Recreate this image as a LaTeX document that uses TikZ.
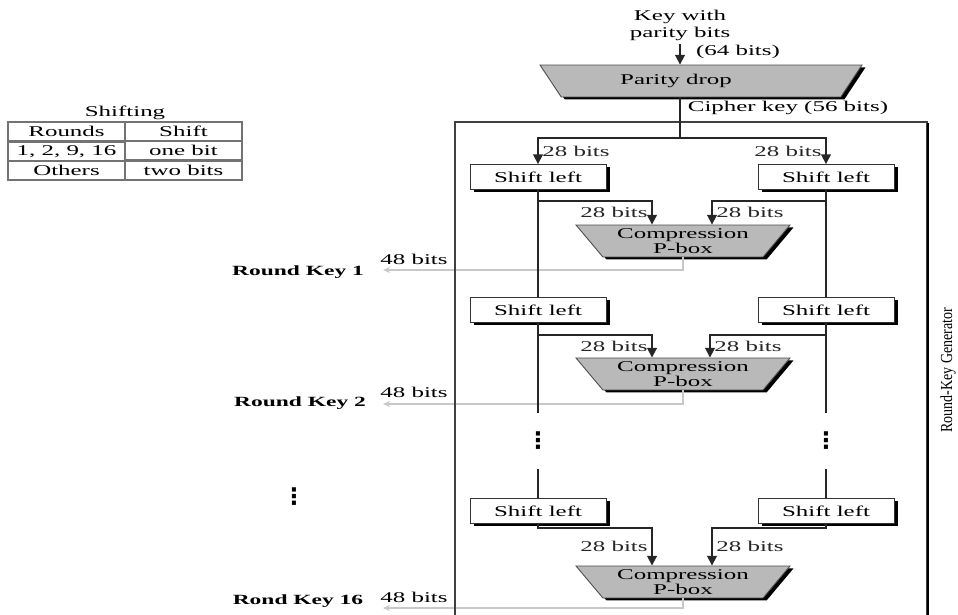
\documentclass[tikz,border=0pt]{standalone}
\usepackage{fontspec}
\setmainfont{Liberation Serif}[FakeStretch=1.67]
\newfontfamily\sidefont{Liberation Serif}[FakeStretch=0.83]
\newfontfamily\dotsfont{DejaVu Sans}
\usetikzlibrary{arrows.meta, shapes.geometric, shadows, matrix}
\definecolor{boxgray}{RGB}{185,185,185}
\definecolor{keygray}{RGB}{200,200,200}

\tikzset{
  txt/.style={font=\fontsize{8.5}{9.6}\selectfont, inner sep=2pt},
  shadowed/.style={drop shadow={shadow xshift=2pt, shadow yshift=-1.4pt, fill=black, opacity=1}},
  shiftbox/.style={txt, draw=black!80, fill=white, line width=0.5pt, minimum width=2.72cm,
    minimum height=0.5cm, inner sep=0pt, shadowed},
  pbox/.style={trapezium, trapezium stretches body=true, shape border rotate=180, trapezium angle=45,
    draw=black!70, fill=boxgray, line width=0.5pt, minimum width=4.28cm, minimum height=0.64cm,
    inner xsep=0pt, inner ysep=0.5pt, align=center, font=\fontsize{8.5}{8.6}\selectfont, shadowed},
  dropbox/.style={trapezium, trapezium stretches body=true, shape border rotate=180, trapezium angle=53,
    draw=black!70, fill=boxgray, line width=0.5pt, minimum width=6.44cm, minimum height=0.64cm,
    inner sep=2pt, shadowed},
  flow/.style={line width=1pt, black!85},
  arr/.style={flow, -{Triangle[width=5.5pt,length=5.5pt]}},
  keyline/.style={keygray, line width=0.6pt, -{Stealth[length=4pt,width=3.5pt]}},
  rkey/.style={font=\fontsize{8}{9}\selectfont\bfseries, inner sep=1pt},
  dotsnode/.style={minimum height=1.1cm, inner sep=0pt, font=\dotsfont\bfseries\fontsize{13}{13}\selectfont}
}

\begin{document}
\begin{tikzpicture}[x=0.02cm, y=-0.02cm]
  \useasboundingbox (0,0) rectangle (958,615);

  % shift table
  \node[txt] (shifttitle) at (125,113) {Shifting};
  \matrix (shifttab) [matrix of nodes, column sep=-0.8pt, row sep=-0.8pt,
    nodes={txt, draw=black!55, line width=0.8pt, minimum width=2.34cm, minimum height=0.38cm, inner sep=0pt}]
    at (125,151) {
      Rounds & Shift \\
      1, 2, 9, 16 & one bit \\
      Others & two bits \\
    };

  % key in and parity drop
  \node[txt, align=center] (keyin) at (680,25) {Key with\\parity bits};
  \node[txt] (keybits) at (738,52) {(64 bits)};
  \node[dropbox, label={[txt, xshift=-0.5cm]center:Parity drop}] (drop) at (701,81) {\strut};
  \draw[arr] (keyin.south) -- (keyin.south |- drop.north);
  \node[txt, anchor=west] (cipher) at (684,108) {Cipher key (56 bits)};
  \coordinate (split) at (680,138);

  % shift left boxes
  \node[shiftbox] (sl1L) at (538,177) {Shift left};
  \node[shiftbox] (sl1R) at (826,177) {Shift left};
  \node[shiftbox] (sl2L) at (538,310) {Shift left};
  \node[shiftbox] (sl2R) at (826,310) {Shift left};
  \node[shiftbox] (sl3L) at (538,511) {Shift left};
  \node[shiftbox] (sl3R) at (826,511) {Shift left};

  % compression boxes
  \node[pbox] (pb1) at (683,241) {Compression\\P-box};
  \node[pbox] (pb2) at (683,374) {Compression\\P-box};
  \node[pbox] (pb3) at (683,582) {Compression\\P-box};

  % round keys out
  \coordinate (rk1) at (383,270);
  \coordinate (rk2) at (383,404);
  \coordinate (rk3) at (383,608);
  \draw[keyline] (pb1.south) |- (rk1);
  \draw[keyline] (pb2.south) |- (rk2);
  \draw[keyline] (pb3.south) |- (rk3);
  \node[txt] (bits1) at (414,259) {48 bits};
  \node[txt] (bits2) at (414,392) {48 bits};
  \node[txt] (bits3) at (414,597) {48 bits};
  \node[rkey] (key1) at (298,272) {Round Key 1};
  \node[rkey] (key2) at (300,403) {Round Key 2};
  \node[rkey] (key16) at (298,601) {Rond Key 16};
  \node[dotsnode, minimum height=0pt] (dotskey) at (294,497) {⋮};

  % generator frame
  \draw[black!75, line width=0.8pt] (455,615) -- (455,122) -- (927,122) -- (927,615);
  \draw[black, line width=1.6pt] (928,123) -- (928,615);
  \node[rotate=90, font=\sidefont\fontsize{9.6}{10}\selectfont] (rkgen) at (948,370) {Round-Key Generator};

  % cipher key split
  \draw[flow] (drop.south -| keyin.south) -- (split);
  \draw[arr] (split) -| node[txt, pos=0.75, right] {28 bits} (sl1L.north);
  \draw[arr] (split) -| node[txt, pos=0.75, left] {28 bits} (sl1R.north);

  % round 1
  \draw[flow] (sl1L.south) -- (sl2L.north);
  \draw[flow] (sl1R.south) -- (sl2R.north);
  \draw[arr] ([yshift=-0.22cm]sl1L.south) -| node[txt, pos=0.75, left] {28 bits} ([xshift=-0.62cm]pb1.north);
  \draw[arr] ([yshift=-0.22cm]sl1R.south) -| node[txt, pos=0.75, right] {28 bits} ([xshift=0.58cm]pb1.north);

  % round 2
  \node[dotsnode] (dotsL) at (538,441) {⋮};
  \node[dotsnode] (dotsR) at (826,441) {⋮};
  \draw[flow] (sl2L.south) -- (dotsL.north);
  \draw[flow] (sl2R.south) -- (dotsR.north);
  \draw[arr] ([yshift=-0.24cm]sl2L.south) -| node[txt, pos=0.75, left] {28 bits} ([xshift=-0.62cm]pb2.north);
  \draw[arr] ([yshift=-0.24cm]sl2R.south) -| node[txt, pos=0.75, right] {28 bits} ([xshift=0.54cm]pb2.north);

  % round 16
  \draw[flow] (dotsL.south) -- (sl3L.north);
  \draw[flow] (dotsR.south) -- (sl3R.north);
  \draw[arr] (sl3L.south) -- ([yshift=-0.08cm]sl3L.south) -| node[txt, pos=0.75, left] {28 bits} ([xshift=-0.62cm]pb3.north);
  \draw[arr] (sl3R.south) -- ([yshift=-0.08cm]sl3R.south) -| node[txt, pos=0.75, right] {28 bits} ([xshift=0.58cm]pb3.north);
\end{tikzpicture}
\end{document}
